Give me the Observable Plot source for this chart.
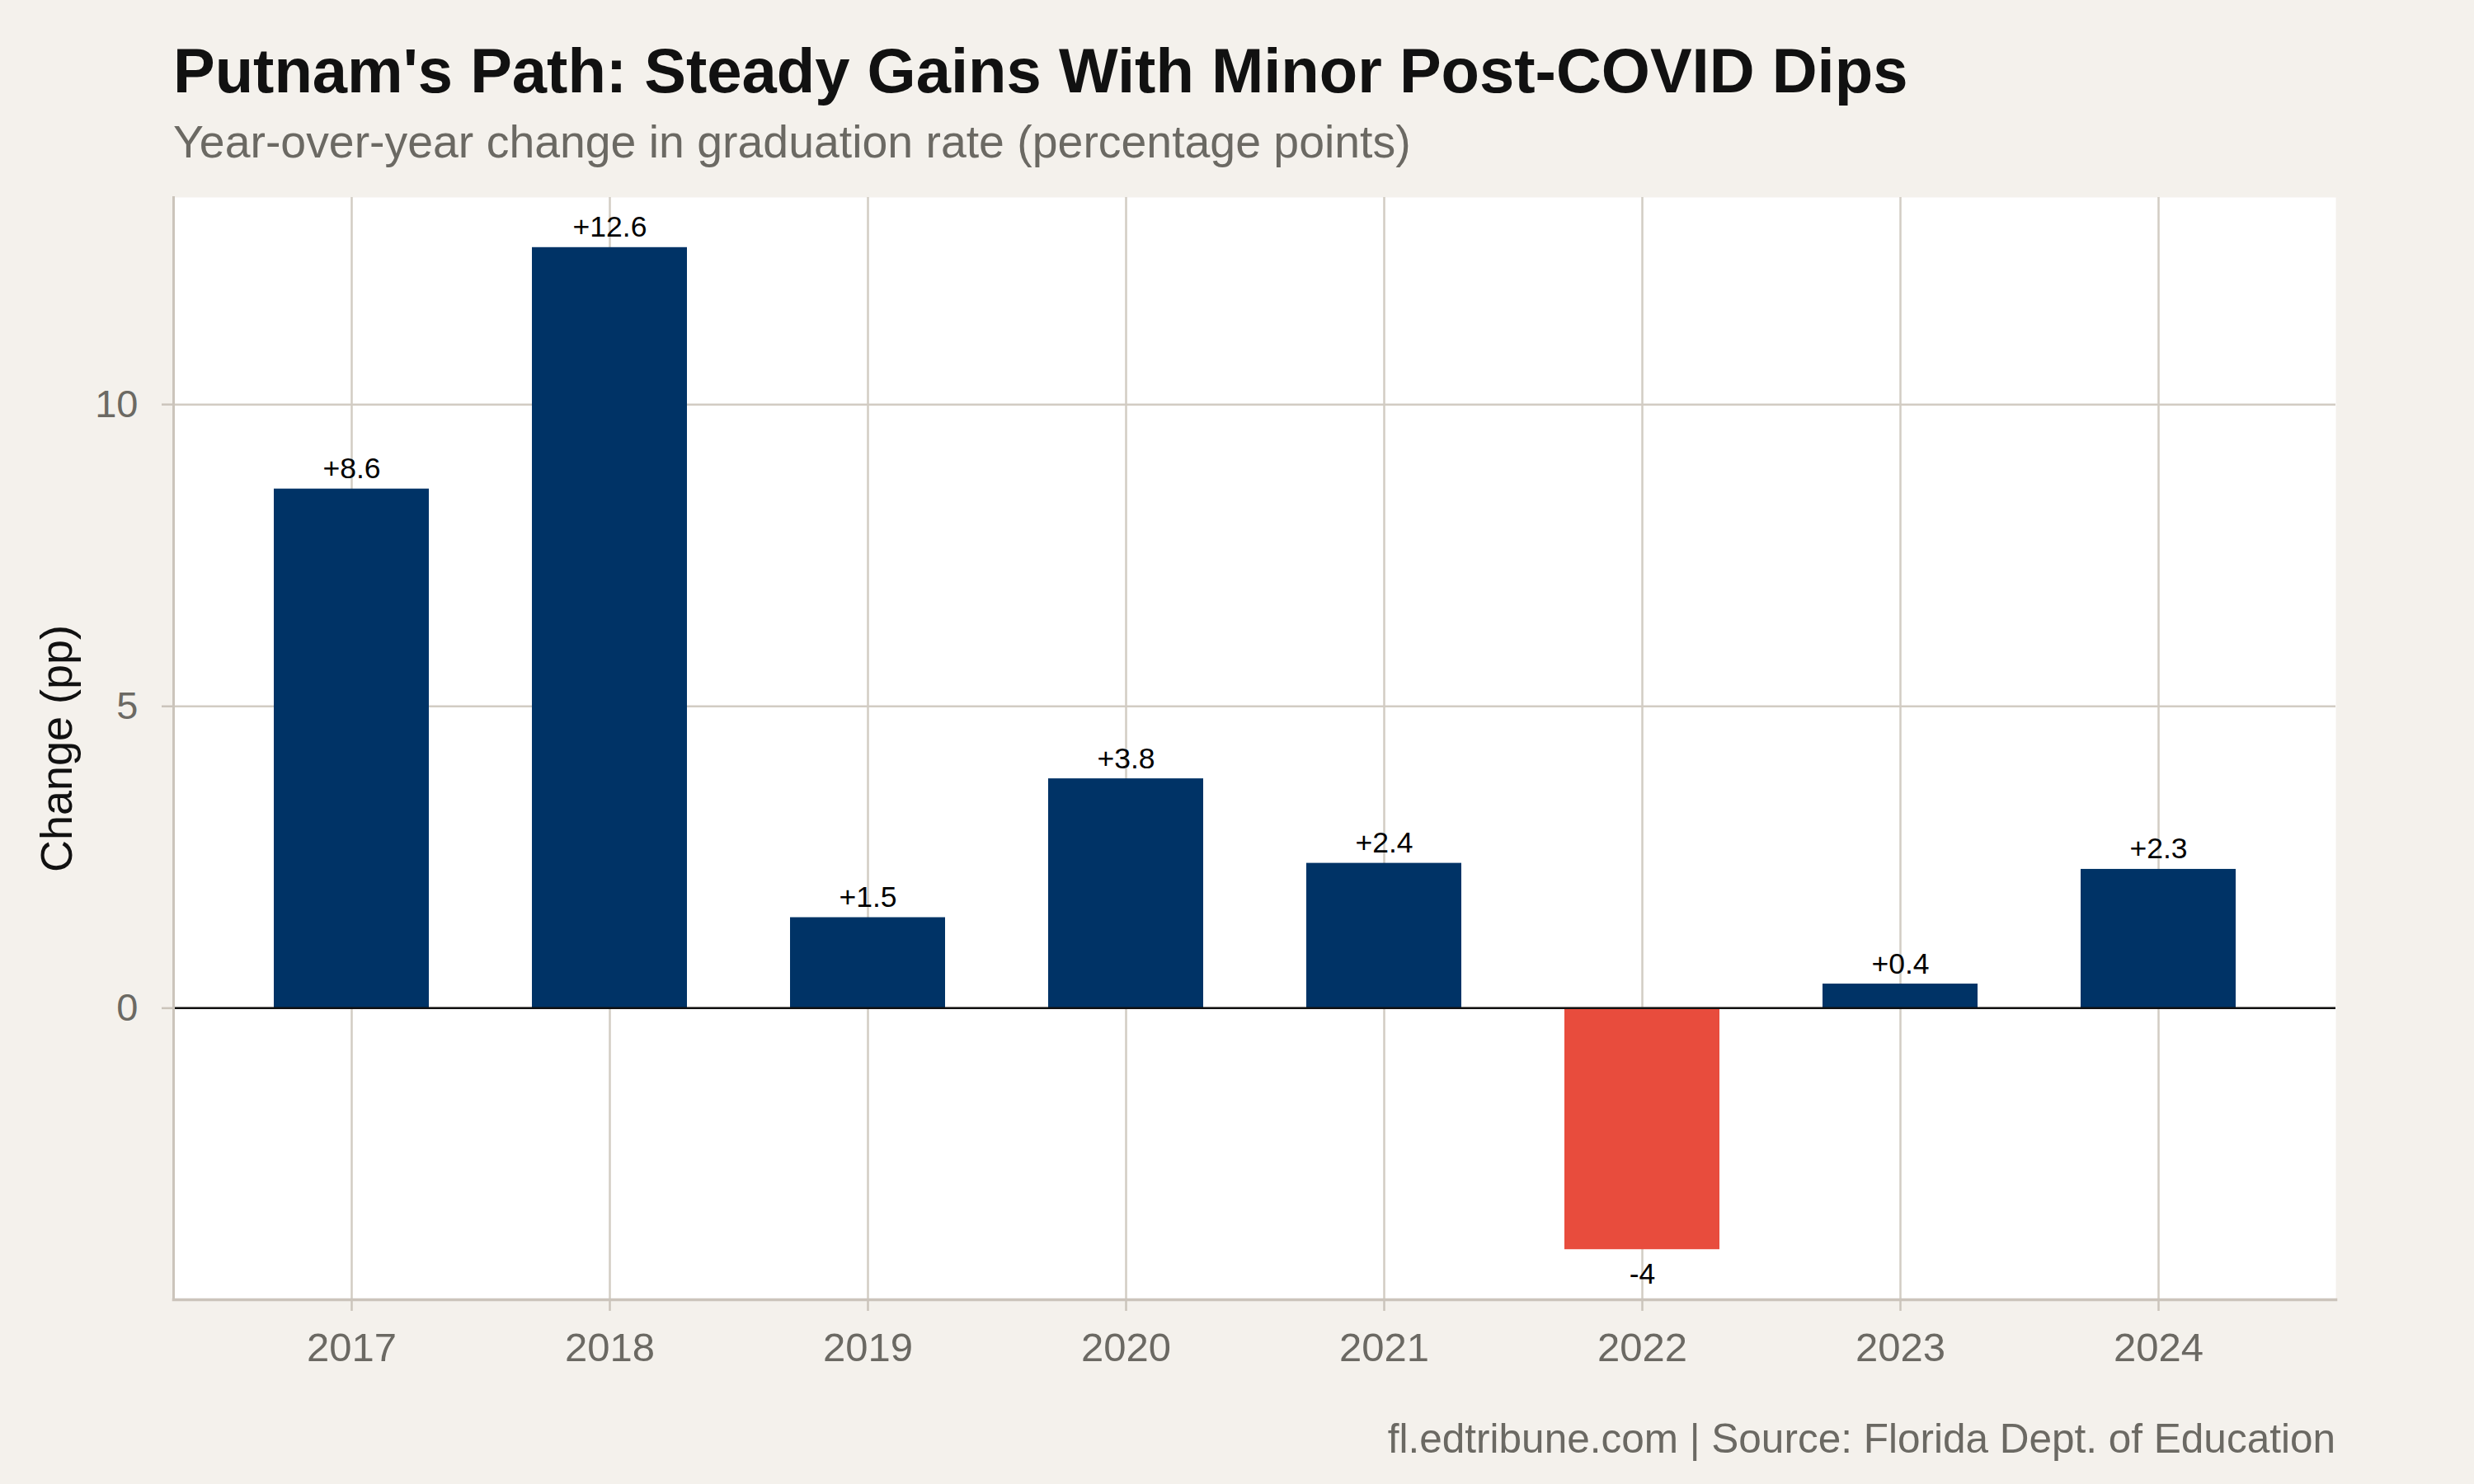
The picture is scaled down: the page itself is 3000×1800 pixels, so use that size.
<!DOCTYPE html>
<html>
<head>
<meta charset="utf-8">
<script src="https://cdn.jsdelivr.net/npm/d3@7"></script>
<script src="https://cdn.jsdelivr.net/npm/@observablehq/plot@0.6"></script>
<style>
  html, body { margin: 0; padding: 0; background: #f4f1ec; }
  #wrap { position: relative; width: 3000px; height: 1800px; background: #f4f1ec; font-family: "Liberation Sans", Arial, Helvetica, sans-serif; overflow: hidden; }
  .t { position: absolute; white-space: nowrap; line-height: 1; }
  #title { left: 210px; top: 47.7px; font-size: 76px; font-weight: bold; color: #111111; }
  #subtitle { left: 210px; top: 145.1px; font-size: 55.4px; color: #6b6963; }
  #caption { right: 168px; top: 1720px; font-size: 49.5px; color: #6b6963; }
  #chart { position: absolute; left: 0; top: 200px; }
</style>
</head>
<body>
<div id="wrap">
  <div class="t" id="title">Putnam's Path: Steady Gains With Minor Post-COVID Dips</div>
  <div class="t" id="subtitle">Year-over-year change in graduation rate (percentage points)</div>
  <div id="chart"></div>
  <div class="t" id="caption">fl.edtribune.com | Source: Florida Dept. of Education</div>
</div>
<script>
const years = ["2017", "2018", "2019", "2020", "2021", "2022", "2023", "2024"];
const changes = [8.6, 12.6, 1.5, 3.8, 2.4, -4, 0.4, 2.3];
const valueLabels = ["+8.6", "+12.6", "+1.5", "+3.8", "+2.4", "-4", "+0.4", "+2.3"];
const yTicks = [0, 5, 10];

const navy = "#003366";
const red = "#e84c3d";
const gridColor = "#d2ccc3";
const axisColor = "#cbc4bb";
const labelGray = "#6b6963";

const data = years.map((year, i) => ({
  year,
  change: changes[i],
  label: valueLabels[i],
  sign: changes[i] < 0 ? "neg" : "pos"
}));

const lo = d3.min(changes), hi = d3.max(changes);
const pad = (hi - lo) * 0.05;
const yDomain = [lo - pad, hi + pad];

const chart = Plot.plot({
  width: 3000,
  height: 1500,
  marginTop: 39,
  marginBottom: 124,
  marginLeft: 210,
  marginRight: 168,
  style: { background: "transparent", fontFamily: "'Liberation Sans', Arial, Helvetica, sans-serif", overflow: "visible" },
  x: { type: "band", domain: years, paddingInner: 0.4, paddingOuter: 0.38, align: 0.5, label: null },
  y: { domain: yDomain, label: null },
  color: { domain: ["pos", "neg"], range: [navy, red] },
  marks: [
    Plot.frame({ fill: "white", stroke: null }),
    Plot.gridX({ stroke: gridColor, strokeOpacity: 1, strokeWidth: 2.5 }),
    Plot.gridY({ ticks: yTicks, stroke: gridColor, strokeOpacity: 1, strokeWidth: 2.5 }),
    Plot.barY(data, { x: "year", y: "change", fill: "sign" }),
    Plot.ruleY([0], { stroke: "#111111", strokeWidth: 2.5 }),
    Plot.frame({ anchor: "left", stroke: axisColor, strokeWidth: 3 }),
    Plot.frame({ anchor: "bottom", stroke: axisColor, strokeWidth: 3.5 }),
    Plot.text(data.filter(d => d.change >= 0), {
      x: "year", y: "change", text: "label", lineAnchor: "bottom", dy: -13,
      fontSize: 35.5, fill: "#000000"
    }),
    Plot.text(data.filter(d => d.change < 0), {
      x: "year", y: "change", text: "label", lineAnchor: "top", dy: 16,
      fontSize: 35.5, fill: "#000000"
    }),
    Plot.axisY({
      ticks: yTicks, tickSize: 14, tickPadding: 29, fontSize: 47,
      stroke: axisColor, strokeWidth: 2.5, fill: labelGray, label: null
    }),
    Plot.axisY({
      ticks: [], tickSize: 0, label: "Change (pp)", labelAnchor: "center", labelArrow: "none",
      labelOffset: 162, fontSize: 54, fill: "#111111"
    }),
    Plot.axisX({
      tickSize: 14, tickPadding: 26, fontSize: 49,
      stroke: axisColor, strokeWidth: 2.5, fill: labelGray, label: null
    })
  ]
});
document.getElementById("chart").appendChild(chart);
</script>
</body>
</html>
